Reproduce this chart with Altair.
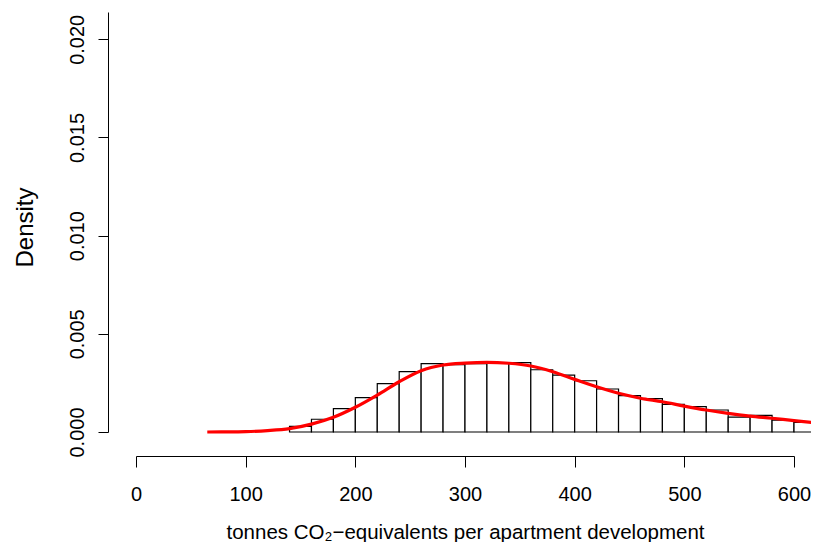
import altair as alt
import pandas as pd

# Histogram bins (left edges, width 20) and their densities
bin_left = [140, 160, 180, 200, 220, 240, 260, 280, 300, 320, 340, 360,
            380, 400, 420, 440, 460, 480, 500, 520, 540, 560, 580, 600]
bin_width = 20
bin_density = [0.00029, 0.00065, 0.00119, 0.00175, 0.00246, 0.00307, 0.00348,
               0.00343, 0.00348, 0.00350, 0.00353, 0.00317, 0.00290, 0.00261,
               0.00219, 0.00185, 0.00170, 0.00141, 0.00129, 0.00112, 0.00076,
               0.00085, 0.00060, 0.00049]

# Kernel density curve
curve_x = [65, 80, 100, 120, 140, 160, 180, 200, 220, 240, 260, 280, 300, 320,
           340, 360, 380, 400, 420, 440, 460, 480, 500, 520, 540, 560, 580, 600, 620]
curve_y = [0.0, 0.000005, 0.00002, 0.00007, 0.00017, 0.00040, 0.00075, 0.00126,
           0.00188, 0.00256, 0.00312, 0.00341, 0.00351, 0.00355, 0.00350, 0.00336,
           0.00307, 0.00268, 0.00230, 0.00197, 0.00172, 0.00154, 0.00132, 0.00112,
           0.00095, 0.00081, 0.00070, 0.00058, 0.00047]

x_ticks = [0, 100, 200, 300, 400, 500, 600]
y_ticks = [0.0, 0.005, 0.010, 0.015, 0.020]

bars_df = pd.DataFrame({
    "x": bin_left,
    "x2": [b + bin_width for b in bin_left],
    "d": bin_density,
})
curve_df = pd.DataFrame({"x": curve_x, "d": curve_y})

FONT = "Liberation Sans"

x_enc = alt.X(
    "x:Q",
    scale=alt.Scale(domain=[0, 600], nice=False, zero=False),
    axis=alt.Axis(
        values=x_ticks, format="d", offset=24, grid=False,
        domainColor="black", domainWidth=1, tickColor="black", tickWidth=1,
        tickSize=11, labelFont=FONT, labelFontSize=20, labelColor="black",
        labelBaseline="alphabetic", labelPadding=33, labelFlush=False,
        title="tonnes CO\u2082\u2212equivalents per apartment development",
        titleFont=FONT, titleFontSize=20.5, titleFontWeight="normal",
        titleColor="black", titleBaseline="alphabetic", titleY=82,
    ),
)
y_enc = alt.Y(
    "d:Q",
    scale=alt.Scale(domain=[0, 0.02139], nice=False, zero=True),
    axis=alt.Axis(
        values=y_ticks, format=".3f", offset=28, grid=False,
        domainColor="black", domainWidth=1, tickColor="black", tickWidth=1,
        tickSize=10, labelFont=FONT, labelFontSize=20, labelColor="black",
        labelAngle=270, labelAlign="center", labelBaseline="alphabetic",
        labelPadding=15, labelFlush=False,
        title="Density", titleFont=FONT, titleFontSize=24,
        titleFontWeight="normal", titleColor="black", titleAngle=270,
        titleAlign="center", titleBaseline="alphabetic", titleX=-76, titleY=215,
    ),
)

bars = alt.Chart(bars_df).mark_bar(
    fill="white", stroke="black", strokeWidth=1.2, clip=False
).encode(x=x_enc, x2="x2:Q", y=y_enc, y2=alt.datum(0))

curve = alt.Chart(curve_df).mark_line(
    color="#ff0000", strokeWidth=3.2, interpolate="monotone", clip=False
).encode(x=x_enc, y=y_enc)

chart = alt.layer(bars, curve).properties(
    width=658, height=420,
    autosize=alt.AutoSizeParams(type="none"),
    padding={"left": 128, "top": 4, "right": 17, "bottom": 110},
    background="white",
).configure_view(stroke=None)

chart.save("out.html", embed_options={"renderer": "svg", "actions": False})
